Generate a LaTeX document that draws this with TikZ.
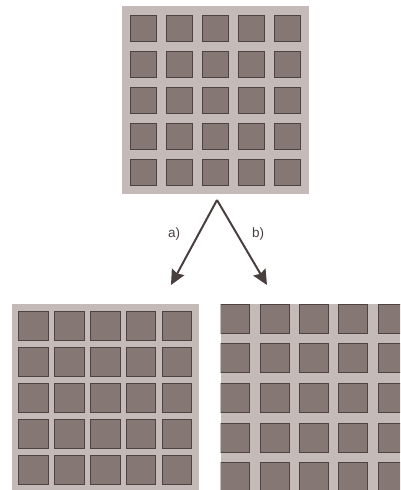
\documentclass[tikz,border=0pt]{standalone}
\usepackage{fontspec}
\setmainfont{Liberation Sans}
\usetikzlibrary{arrows.meta}
\definecolor{plate}{RGB}{196,186,184}
\definecolor{cell}{RGB}{133,119,116}
\definecolor{celledge}{RGB}{78,67,66}
\definecolor{ink}{RGB}{72,64,62}
\tikzset{
  platebox/.style={fill=plate, draw=none},
  cellbox/.style={fill=cell, draw=celledge, line width=1pt},
  pointer/.style={-{Stealth[length=15pt, width=14pt, inset=2pt]}, draw=ink, fill=ink, line width=2pt},
  tag/.style={text=ink, font=\fontsize{13.5}{15}\selectfont, inner sep=0pt}
}
\begin{document}
\begin{tikzpicture}[x=1pt, y=-1pt]
    \useasboundingbox (0,0) rectangle (400,490);

    % 1. Tấm ban đầu (trên)
    \fill[platebox] (122,6) rectangle (309,194);
    \foreach \i in {0,...,4}
      \foreach \j in {0,...,4}
        \draw[cellbox] ({130+36*\i},{15+36*\j}) rectangle ++(26,26);

    % 2. Mũi tên và nhãn
    \coordinate (apex) at (217,200);
    \coordinate (tipA) at (171,285);
    \coordinate (tipB) at (267,285);
    \draw[pointer] (apex) -- (tipA);
    \draw[pointer] (apex) -- (tipB);
    \node[tag] (lblA) at (174,234) {a)};
    \node[tag] (lblB) at (258,234) {b)};

    % 3. Trường hợp a): ô lớn hơn, khe hẹp hơn
    \fill[platebox] (12,304) rectangle (199,490);
    \foreach \i in {0,...,4}
      \foreach \j in {0,...,4}
        \draw[cellbox] ({18.7+35.9*\i},{311+36*\j}) rectangle ++(29.5,29.5);

    % 4. Trường hợp b): phóng to, bị cắt
    \begin{scope}
      \clip (220.7,304) rectangle (400,490);
      \fill[platebox] (220.7,304) rectangle (400,490);
      \foreach \i in {0,...,4}
        \foreach \j in {0,...,4}
          \draw[cellbox] ({220.7+39.4*\i},{304+39.7*\j}) rectangle ++(29,29);
    \end{scope}
\end{tikzpicture}
\end{document}
